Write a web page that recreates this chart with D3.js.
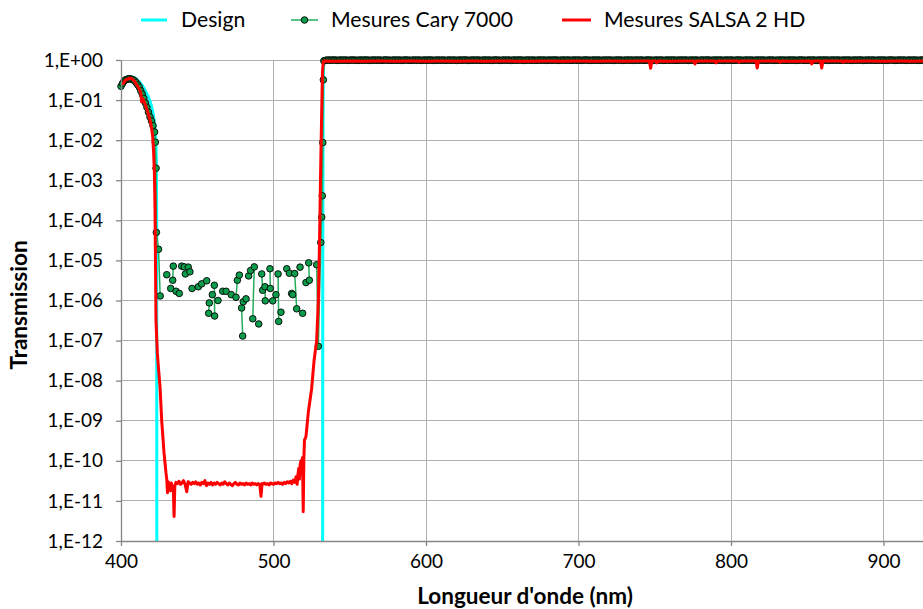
<!DOCTYPE html>
<html><head><meta charset="utf-8">
<script src="https://cdn.jsdelivr.net/npm/d3@7/dist/d3.min.js"></script>
<style>
body{margin:0;background:#fff}
svg{display:block}
text{font-family:Lato,"Open Sans",sans-serif;fill:#000}
</style>
</head><body>
<svg id="chart" width="923" height="609"></svg>
<script>
// ---------------- DATA ----------------
const seriesNames = ["Design", "Mesures Cary 7000", "Mesures SALSA 2 HD"];
const xTickValues = [400, 500, 600, 700, 800, 900];
const yTickValues = [1, 1e-1, 1e-2, 1e-3, 1e-4, 1e-5, 1e-6, 1e-7, 1e-8, 1e-9, 1e-10, 1e-11, 1e-12];
const yTickLabels = ["1,E+00","1,E-01","1,E-02","1,E-03","1,E-04","1,E-05","1,E-06","1,E-07","1,E-08","1,E-09","1,E-10","1,E-11","1,E-12"];
const xTitle = "Longueur d'onde (nm)";
const yTitle = "Transmission";

// Design (theoretical)
const designNm = [400,402,404,406,408,410,412,414,416,418,419,420,421,422,422.8,423.2,423.4,423.5,532.2,532.3,532.4,532.6,533,540,930];
const designT  = [0.24,0.32,0.37,0.38,0.37,0.34,0.29,0.23,0.17,0.12,0.095,0.07,0.048,0.027,0.011,0.003,1e-4,1e-13,1e-13,1e-6,1e-3,0.3,0.97,0.995,0.995];

// Mesures Cary 7000 (null = gap in the measured curve)
const caryNm = [400,401,402,403,404,405,406,407,408,409,410,411,412,413,414,415,416,417,418,419,420,421,422,422.5,423,423.2,424.6,425.7,
  null,430.0,null,432.6,null,433.9,434.3,null,436.1,null,438.2,null,439.8,null,441.5,null,442.2,null,444.1,445.2,null,446.6,null,
  450.7,null,452.9,null,456.2,null,457.5,457.9,null,459.9,null,461.2,461.4,null,463.6,null,466.7,null,468.9,null,472.3,null,
  475.4,476.3,477.6,null,479.1,479.8,null,480.2,null,482.0,null,483.7,null,485.0,null,486.4,487.4,null,490.3,null,492.3,492.9,null,
  494.4,494.6,null,497.7,497.9,null,499.5,null,501.6,null,503.0,503.4,null,504.9,null,508.7,null,510.4,null,511.9,512.6,null,
  513.9,515.2,null,517.4,null,519.1,null,521.3,null,523.1,523.5,null,528.3,529.4,531.0,531.6,532.0,532.3,532.7];
const caryT = [0.22,0.26,0.30,0.32,0.33,0.34,0.34,0.33,0.32,0.30,0.27,0.24,0.21,0.17,0.14,0.11,0.085,0.066,0.050,0.038,0.030,0.023,0.016,0.0089,0.002,5.0e-5,1.9e-5,1.3e-6,
  null,4.4e-6,null,2.0e-6,null,3.2e-6,7.2e-6,null,1.7e-6,null,1.5e-6,null,7.2e-6,null,6.9e-6,null,4.6e-6,null,6.8e-6,5.2e-6,null,2.0e-6,null,
  2.2e-6,null,2.6e-6,null,3.1e-6,null,4.8e-7,8.7e-7,null,1.4e-6,null,2.4e-6,4.1e-7,null,1.0e-6,null,1.7e-6,null,1.7e-6,null,1.4e-6,null,
  1.2e-6,3.2e-6,4.3e-6,null,6.5e-7,1.3e-7,null,9.3e-7,null,1.1e-6,null,4.1e-6,null,5.6e-6,null,3.5e-7,6.9e-6,null,2.6e-7,null,4.6e-6,1.8e-6,null,
  2.2e-6,9.8e-7,null,6.2e-6,2.0e-6,null,9.8e-7,null,1.4e-6,null,4.6e-6,3.0e-7,null,5.1e-7,null,6.2e-6,null,4.8e-6,null,1.5e-6,1.4e-6,null,
  4.7e-6,6.2e-7,null,6.8e-6,null,4.8e-7,null,2.8e-6,null,8.7e-6,3.2e-6,null,7.8e-6,7.2e-8,2.8e-5,1.2e-4,4.1e-4,8.7e-3,0.32];
// Cary high-transmission band, sampled every 1 nm from 533 nm
const caryTopNm = d3.range(533, 933, 1);
const caryTopT = [
 0.95,0.98,0.99,1.00,0.99,0.99,1.00,1.00,0.99,0.98, 0.99,1.00,0.99,0.99,1.00,0.99,0.98,0.99,1.00,1.00,
 0.99,0.99,0.98,0.99,1.00,0.99,0.99,1.00,1.00,0.99, 0.98,0.99,0.99,1.00,0.99,0.99,1.00,0.99,0.98,0.99,
 1.00,1.00,0.99,0.99,0.98,0.99,1.00,0.99,0.99,1.00, 0.99,0.98,0.99,1.00,1.00,0.99,0.99,0.98,0.99,1.00,
 0.99,0.99,1.00,0.99,0.98,0.99,1.00,0.99,0.99,1.00, 1.00,0.99,0.98,0.99,0.99,1.00,0.99,0.99,1.00,0.99,
 0.98,0.99,1.00,0.99,0.99,1.00,0.99,0.98,0.99,1.00, 0.99,0.99,1.00,1.00,0.99,0.98,0.99,0.99,1.00,0.99,
 0.99,1.00,0.99,0.98,0.99,1.00,0.99,0.99,1.00,0.99, 0.98,0.99,1.00,1.00,0.99,0.99,0.98,0.99,1.00,0.99,
 0.99,1.00,0.99,0.98,0.99,1.00,0.99,0.99,1.00,1.00, 0.99,0.98,0.99,0.99,1.00,0.99,0.99,1.00,0.99,0.98,
 0.99,1.00,0.99,0.99,1.00,0.99,0.98,0.99,1.00,0.99, 0.99,1.00,1.00,0.99,0.98,0.99,0.99,1.00,0.99,0.99,
 1.00,0.99,0.98,0.99,1.00,0.99,0.99,1.00,0.99,0.98, 0.99,1.00,1.00,0.99,0.99,0.98,0.99,1.00,0.99,0.99,
 1.00,0.99,0.98,0.99,1.00,0.99,0.99,1.00,0.99,0.99, 0.98,0.99,1.00,0.99,1.00,0.99,0.98,0.99,0.99,1.00,
 0.99,0.99,1.00,0.98,0.99,1.00,0.99,0.99,1.00,0.99, 0.98,0.99,1.00,1.00,0.99,0.99,0.98,0.99,1.00,0.99,
 0.99,1.00,0.99,0.98,0.99,1.00,0.99,0.99,1.00,0.99, 1.00,0.98,0.99,0.99,1.00,0.99,0.99,1.00,0.99,0.98,
 0.99,1.00,0.99,0.99,1.00,0.99,0.98,0.99,1.00,0.99, 0.99,1.00,1.00,0.99,0.98,0.99,0.99,1.00,0.99,0.99,
 1.00,0.99,0.98,0.99,1.00,0.99,0.99,1.00,0.99,0.98, 0.99,1.00,1.00,0.99,0.99,0.98,0.99,1.00,0.99,0.99,
 1.00,0.99,0.98,0.99,1.00,0.99,0.99,1.00,0.99,0.99, 0.98,0.99,1.00,0.99,1.00,0.99,0.98,0.99,0.99,1.00,
 0.99,0.99,1.00,0.98,0.99,1.00,0.99,0.99,1.00,0.99, 0.98,0.99,1.00,1.00,0.99,0.99,0.98,0.99,1.00,0.99,
 0.99,1.00,0.99,0.98,0.99,1.00,0.99,0.99,1.00,0.99, 1.00,0.98,0.99,0.99,1.00,0.99,0.99,1.00,0.99,0.98,
 0.99,1.00,0.99,0.99,1.00,0.99,0.98,0.99,1.00,0.99, 0.99,1.00,1.00,0.99,0.98,0.99,0.99,1.00,0.99,0.99,
 1.00,0.99,0.98,0.99,1.00,0.99,0.99,1.00,0.99,0.98, 0.99,1.00,1.00,0.99,0.99,0.98,0.99,1.00,0.99,0.99,
 1.00,0.99,0.98,0.99,1.00,0.99,0.99,1.00,0.99,0.99, 0.98,0.99,1.00,0.99,1.00,0.99,0.98,0.99,0.99,1.00];

// Mesures SALSA 2 HD
const salsaNm = [401,402,403,404,405,406,407,408,409,410,411,412,413,413.5,414.2,415,416,417,418,419,420,420.8,421.4,421.9,422.3,422.6,422.95,423.8,424.6,425.6,426.7,428.2,429.5,
 430.0,430.5,431.0,431.5,432.0,432.5,433.0,433.6,434.3,434.8,435.3,436,437,438,439,440,441,442,443.1,444,445,446,447,448,449,450,
 451,452,453,454,455,456,457,458,459,460,461,462,463,464,465,466,467,468,469,470,471,472,473,474,475,476,477,478,479,480,
 481,482,483,484,485,486,487,488,489,490,491,491.8,492.5,493,494,495,496,497,498,499,500,501,502,503,504,505,506,507,508,509,510,
 511,512,513,514,514.8,515.5,516,516.6,517,517.5,518,518.5,519,519.5,519.9,520.3,521.3,522.8,525.0,526.6,528.3,529.4,530.2,530.8,531.5,532.1,532.7,533.5,
 540,550,560,570,580,590,600,610,620,630,640,650,660,670,680,690,700,710,720,730,740,746.5,747.3,748.1,750.5,751.3,752.1,760,770,775.6,776.4,777.2,
 789.4,790.2,791.0,804.6,805.4,806.2,816.4,817.2,818.0,831.3,832.1,832.9,840,852.1,852.9,853.7,858.7,859.5,860.3,872.8,873.6,874.4,880,890,900,910,920,930];
const salsaT = [0.24,0.28,0.32,0.33,0.34,0.35,0.34,0.32,0.29,0.25,0.22,0.19,0.15,0.09,0.11,0.095,0.075,0.058,0.044,0.032,0.021,0.012,0.005,1.5e-3,2.0e-4,1.0e-5,3.2e-7,5.0e-8,2.0e-8,7.0e-9,1.0e-9,1.6e-10,5.0e-11,
 3.5e-11,1.6e-11,3.0e-11,2.0e-11,2.5e-11,1.8e-11,2.8e-11,2.2e-11,2.0e-11,4.1e-12,2.4e-11,2.9e-11,2.7e-11,3.1e-11,2.6e-11,2.8e-11,3.2e-11,2.6e-11,1.7e-11,3.0e-11,2.8e-11,2.6e-11,2.9e-11,2.7e-11,3.0e-11,2.6e-11,
 2.8e-11,2.5e-11,2.9e-11,2.7e-11,3.2e-11,2.4e-11,2.8e-11,2.6e-11,2.9e-11,2.5e-11,2.8e-11,2.6e-11,2.9e-11,2.7e-11,2.5e-11,2.8e-11,2.6e-11,3.0e-11,2.7e-11,2.5e-11,2.8e-11,2.6e-11,2.4e-11,2.7e-11,2.9e-11,2.6e-11,2.5e-11,2.8e-11,2.6e-11,2.7e-11,
 2.5e-11,2.8e-11,2.6e-11,2.7e-11,2.5e-11,2.8e-11,2.6e-11,2.7e-11,2.5e-11,2.7e-11,2.6e-11,1.3e-11,2.7e-11,2.6e-11,2.8e-11,2.6e-11,2.7e-11,2.5e-11,2.8e-11,2.7e-11,2.6e-11,2.8e-11,2.7e-11,2.9e-11,2.7e-11,2.8e-11,2.6e-11,2.9e-11,2.7e-11,3.0e-11,2.8e-11,
 3.1e-11,2.7e-11,3.3e-11,2.9e-11,4.0e-11,2.6e-11,4.5e-11,6.5e-11,3.5e-11,8.0e-11,1.0e-10,5.0e-11,1.2e-10,5.4e-12,1.1e-10,3.3e-10,4.0e-10,1.6e-9,6.3e-9,3.2e-8,1.0e-7,1.0e-6,3.2e-5,1.0e-3,0.032,0.5,0.93,0.94,
 0.93,0.94,0.93,0.94,0.935,0.94,0.93,0.94,0.935,0.94,0.93,0.94,0.935,0.93,0.94,0.935,0.94,0.93,0.94,0.935,0.94,0.94,0.62,0.94,0.94,0.85,0.94,0.935,0.94,0.94,0.80,0.94,
 0.94,0.85,0.94,0.94,0.88,0.94,0.94,0.63,0.94,0.94,0.88,0.94,0.935,0.94,0.80,0.94,0.94,0.63,0.94,0.94,0.88,0.94,0.935,0.94,0.93,0.94,0.935,0.94];

// ---------------- CHART ----------------
const svg = d3.select("#chart");
const P = {left:121, right:923, top:60, bottom:541};
const x = d3.scaleLinear().domain([400, 925.9]).range([P.left, P.right]);
const y = d3.scaleLog().domain([1e-12, 1]).range([P.bottom, P.top]);

const COL = {design:"#00ffff", caryFill:"#0c9d4c", caryLine:"#22ad5c", salsa:"#ff0000", grid:"#b0b0b0", axis:"#868686"};

svg.append("rect").attr("width",923).attr("height",609).attr("fill","#fff");

// gridlines
svg.append("g").selectAll("line").data(yTickValues.slice(0,12)).join("line")
  .attr("x1",P.left).attr("x2",P.right).attr("y1",d=>y(d)).attr("y2",d=>y(d))
  .attr("stroke",COL.grid).attr("stroke-width",1).attr("shape-rendering","crispEdges");
svg.append("g").selectAll("line").data(xTickValues.slice(1)).join("line")
  .attr("x1",d=>x(d)).attr("x2",d=>x(d)).attr("y1",P.top).attr("y2",P.bottom)
  .attr("stroke",COL.grid).attr("stroke-width",1).attr("shape-rendering","crispEdges");

// clip
svg.append("clipPath").attr("id","clip").append("rect")
  .attr("x",P.left).attr("y",P.top-4).attr("width",P.right-P.left).attr("height",P.bottom-P.top+4);

const zip = (a,b)=>a.map((v,i)=>({nm:v, t:b[i]}));
const line = d3.line().defined(d=>d.nm!=null && d.t!=null).x(d=>x(d.nm)).y(d=>y(d.t));

const designData = zip(designNm, designT);
const caryData = zip(caryNm, caryT).concat(zip(caryTopNm, caryTopT));
const salsaData = zip(salsaNm, salsaT);

const lines1 = svg.append("g").attr("clip-path","url(#clip)");
lines1.append("path").datum(designData).attr("d",line)
  .attr("fill","none").attr("stroke",COL.design).attr("stroke-width",3).attr("stroke-linejoin","round");
lines1.append("path").datum(caryData).attr("d",line)
  .attr("fill","none").attr("stroke",COL.caryLine).attr("stroke-width",1.5);

svg.append("g").selectAll("circle").data(caryData.filter(d=>d.nm!=null && d.t!=null && x(d.nm)<=P.right+3)).join("circle")
  .attr("cx",d=>x(d.nm)).attr("cy",d=>y(d.t)).attr("r",3.3)
  .attr("fill",COL.caryFill).attr("stroke","#000").attr("stroke-width",0.9);

const lines2 = svg.append("g").attr("clip-path","url(#clip)");
lines2.append("path").datum(salsaData).attr("d",line)
  .attr("fill","none").attr("stroke",COL.salsa).attr("stroke-width",3).attr("stroke-linejoin","round");

// axes
const yAxis = d3.axisLeft(y).tickValues(yTickValues).tickFormat((d,i)=>yTickLabels[i]).tickSize(5).tickSizeOuter(0).tickPadding(13);
const gy = svg.append("g").attr("transform",`translate(${P.left},0)`).call(yAxis);
const xAxis = d3.axisBottom(x).tickValues(xTickValues).tickFormat(d=>String(d)).tickSize(5).tickSizeOuter(0).tickPadding(9);
const gx = svg.append("g").attr("transform",`translate(0,${P.bottom})`).call(xAxis);
[gx,gy].forEach(g=>{
  g.select(".domain").attr("stroke",COL.axis).attr("stroke-width",1.3);
  g.selectAll(".tick line").attr("stroke",COL.axis).attr("stroke-width",1.3);
  g.selectAll(".tick text").attr("font-family","Lato, sans-serif").attr("font-size",19).attr("fill","#000");
});

// axis titles
svg.append("text").attr("x",(P.left+P.right)/2+3).attr("y",604).attr("text-anchor","middle")
  .attr("font-size",22.5).attr("font-weight","bold").text(xTitle);
svg.append("text").attr("transform","translate(27,305) rotate(-90)").attr("text-anchor","middle")
  .attr("font-size",22.5).attr("font-weight","bold").text(yTitle);

// legend
const leg = svg.append("g");
const legItems = [
  {name:seriesNames[0], x1:141, x2:167, tx:181, color:COL.design, w:3, marker:false},
  {name:seriesNames[1], x1:291, x2:318, tx:331, color:COL.caryLine, w:1.5, marker:true},
  {name:seriesNames[2], x1:562, x2:591, tx:604, color:COL.salsa, w:3, marker:false}
];
legItems.forEach(it=>{
  leg.append("line").attr("x1",it.x1).attr("x2",it.x2).attr("y1",20).attr("y2",20)
    .attr("stroke",it.color).attr("stroke-width",it.w);
  if(it.marker) leg.append("circle").attr("cx",(it.x1+it.x2)/2).attr("cy",20).attr("r",3.3)
    .attr("fill",COL.caryFill).attr("stroke","#000").attr("stroke-width",0.9);
  leg.append("text").attr("x",it.tx).attr("y",27).attr("font-size",21.2).text(it.name);
});
</script>
</body></html>
